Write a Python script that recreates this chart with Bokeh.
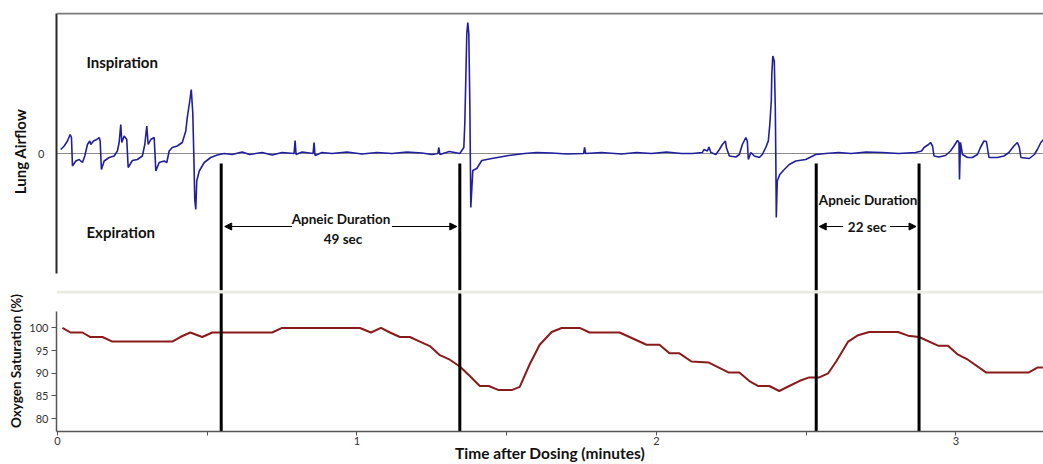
from bokeh.plotting import figure
from bokeh.layouts import column
from bokeh.models import Range1d, Span, Label, Arrow, NormalHead, FixedTicker
from bokeh.embed import file_html
from bokeh.resources import INLINE

# ---------------- data ----------------
# Lung airflow trace, read piecewise: time after dosing (seconds), airflow (arb. units, + = inspiration)
breathing1_t = [0.66, 1.34, 2.0, 2.54, 2.8, 3.0, 3.67, 4.35, 5.0, 5.47, 6.0, 6.47, 6.67, 7.2, 7.87,
                8.35, 8.55, 8.8, 9.35, 10.35, 11.35, 12.0, 12.35, 12.68, 12.88, 13.36, 13.88, 14.16,
                15.0, 16.0, 17.0, 17.49, 17.89, 18.17, 18.7, 19.37, 19.7, 20.37, 21.37, 21.9, 22.37,
                23.0, 24.0, 25.0, 25.7, 26.0, 26.5, 26.8, 27.1, 27.3, 27.5, 27.7, 27.9, 28.4, 29.4,
                30.7, 32.0, 33.4]
breathing1_v = [0.4, 0.75, 1.25, 1.9, 1.6, -1.25, -0.75, -0.6, -0.9, -0.25, 0.9, 1.25, 0.9, 1.25, 1.4,
                1.6, 1.25, -1.6, -0.75, -0.4, -0.25, 0.25, 1.1, 2.9, 1.1, 1.75, 1.4, -1.4,
                -0.7, -0.6, -0.25, 0.9, 2.75, 0.9, 1.4, 1.6, -1.75, -0.9, -0.75, -0.9, 0.25,
                0.6, 0.75, 1.1, 2.25, 3.6, 5.25, 6.4, 4.1, 0.1, -4.6, -5.6, -2.75, -1.75, -0.9,
                -0.4, -0.15, 0.0]
apnea1_t = [35.0, 37.0, 38.5, 41.0, 43.0, 45.0, 47.4, 47.6, 47.8, 49.0, 51.2, 51.4, 51.6, 53.0, 55.0,
            58.0, 61.0, 64.0, 67.0, 70.0, 73.0, 75.0, 76.2, 76.4, 76.6, 78.5, 80.6, 81.4, 81.6, 82.0,
            82.2, 82.4, 82.6, 82.8, 83.2, 84.0, 85.0, 87.0, 90.4, 93.6, 96.0, 99.0, 102.0, 105.4,
            105.6, 105.8, 109.0, 113.0, 116.0, 119.0, 122.0, 125.0]
apnea1_v = [-0.1, 0.15, -0.1, 0.1, -0.15, 0.1, 0.0, 1.3, -0.1, 0.15, 0.0, 1.1, -0.2, 0.1, 0.0,
            0.15, -0.05, 0.1, 0.0, 0.15, 0.05, -0.1, 0.0, 0.6, -0.1, 0.2, 0.0, 0.6, 3.0, 12.0,
            13.1, 12.0, 5.3, -5.4, -1.7, -1.5, -0.7, -0.5, -0.2, 0.0, 0.1, 0.05, -0.05, 0.0,
            0.6, 0.0, 0.1, -0.05, 0.1, 0.0, 0.15, 0.0]
breathing2_t = [127.2, 129.2, 129.5, 130.2, 130.5, 130.9, 131.9, 132.6, 133.2, 133.8, 134.0, 134.6,
                135.9, 136.6, 137.2, 137.9, 138.2, 138.4, 138.9, 139.6, 140.6, 141.2, 141.9, 142.4,
                142.7, 143.0, 143.1, 143.3, 143.6, 143.8, 143.9, 144.0, 144.2, 144.7, 145.6, 146.6,
                147.9, 149.9, 151.9, 153.9]
breathing2_v = [0.0, 0.1, 0.4, 0.25, 0.65, 0.1, -0.1, 0.4, 0.9, 1.25, 0.6, -0.25,
                -0.35, -0.1, 0.9, 1.6, 1.25, -0.6, 0.1, -0.25, -0.4, -0.1, 0.6, 1.25,
                2.9, 5.25, 7.9, 9.75, 9.25, 4.6, -0.1, -6.4, -2.75, -2.1, -1.6, -1.1,
                -0.75, -0.6, -0.1, 0.0]
apnea2_t = [156.5, 159.0, 162.0, 165.3, 168.5, 171.9]
apnea2_v = [0.1, 0.0, 0.15, 0.1, 0.0, 0.1]
breathing3_t = [173.1, 173.6, 174.5, 174.9, 175.3, 175.6, 176.6, 177.9, 178.9, 179.6, 180.3, 180.6,
                180.7, 180.9, 181.3, 182.3, 183.3, 184.3, 184.9, 185.6, 186.1, 186.6, 188.3, 189.6,
                190.6, 191.6, 192.3, 192.7, 193.0, 194.7, 195.7, 196.3, 197.0, 197.9]
breathing3_v = [0.25, 0.6, 0.9, 1.1, 0.75, -0.25, -0.35, -0.2, 0.25, 0.75, 1.3, 1.1,
                -2.6, 1.1, -0.1, -0.4, -0.4, -0.1, 0.6, 1.25, 1.2, -0.4, -0.4, -0.25,
                0.1, 0.75, 1.1, 0.6, -0.4, -0.5, -0.1, 0.4, 1.1, 1.6]

# Oxygen saturation (%)
o2_t_sec = [1.0, 2.6, 5.0, 6.6, 9.0, 11.0, 23.0, 24.6, 26.6, 29.0, 31.0, 43.0, 45.0, 60.6, 62.8,
            64.8, 66.6, 68.6, 70.6, 72.6, 74.6, 76.6, 78.6, 80.6, 82.6, 84.6, 86.4, 88.4, 91.0,
            92.6, 94.6, 96.6, 99.0, 101.0, 104.6, 106.6, 112.6, 114.6, 118.0, 120.6, 122.6, 124.6,
            127.0, 130.4, 132.4, 134.4, 136.6, 138.6, 140.4, 142.6, 144.6, 146.6, 148.6, 150.6,
            152.6, 154.4, 156.0, 158.4, 160.4, 162.6, 168.4, 170.4, 172.6, 176.4, 178.4, 180.4,
            182.4, 186.0, 194.6, 196.4, 197.4]
o2_sat = [100, 99, 99, 98, 98, 97, 97, 98, 99, 98, 99, 99, 100, 100, 99,
          100, 99, 98, 98, 97, 96, 94, 93, 91.5, 89.4, 87.2, 87.2, 86.3, 86.3,
          87, 92, 96.3, 99.1, 100, 100, 99, 99, 98, 96.3, 96.3, 94.4, 94.4,
          92.6, 92.4, 91.3, 90.2, 90.2, 88.3, 87.2, 87.2, 86.1, 87.2, 88.3, 89.1,
          89.1, 90, 92.6, 97, 98.4, 99.1, 99.1, 98.3, 98, 96.1, 96.1, 94.1,
          93, 90.2, 90.2, 91.3, 91.3]

# Apnea markers (seconds): start/end of each apneic period
apnea_marks_sec = [32.8, 80.6, 152.0, 172.6]
apnea_texts = ["49 sec", "22 sec"]

x_major_ticks = [0, 1, 2, 3]
x_minor_ticks = [0.5, 1.5, 2.5]
o2_ticks = [80, 85, 90, 95, 100]

# ---------------- derived ----------------
airflow_t_sec = breathing1_t + apnea1_t + breathing2_t + apnea2_t + breathing3_t
airflow_val = breathing1_v + apnea1_v + breathing2_v + apnea2_v + breathing3_v
af_t = [s / 60 for s in airflow_t_sec]
o2_t = [s / 60 for s in o2_t_sec]
marks = [s / 60 for s in apnea_marks_sec]

FONT = "Lato"
W = 1043
xr = Range1d(-0.0033, 3.2922)
TOP_Y = (-13.7, 14.1)
BOT_Y = (77.17, 108.26)

# ---------------- top panel: lung airflow ----------------
top = figure(width=W, height=290, x_range=xr, y_range=Range1d(*TOP_Y),
             output_backend="svg", toolbar_location=None, x_axis_location=None,
             min_border_left=56, min_border_right=0, min_border_top=12, min_border_bottom=0)
top.outline_line_color = None
top.grid.visible = False
ya = top.yaxis[0]
ya.ticker = FixedTicker(ticks=[0])
ya.bounds = (-12.0, 14.0)
ya.axis_line_color = "#2a2a2a"
ya.axis_line_width = 2
ya.major_tick_line_color = None
ya.minor_tick_line_color = None
ya.major_label_standoff = 6
ya.major_label_text_font = FONT
ya.major_label_text_font_size = "11px"
ya.major_label_text_color = "#333333"
ya.axis_label = "Lung Airflow"
ya.axis_label_text_font = FONT
ya.axis_label_text_font_style = "bold"
ya.axis_label_text_font_size = "15px"
ya.axis_label_text_color = "#111111"
ya.axis_label_standoff = 6

top.add_layout(Span(location=14.0, dimension="width", line_color="#7a7a7a", line_width=2))
top.add_layout(Span(location=0, dimension="width", line_color="#8a8a8a", line_width=1, level="underlay"))

top.line(af_t, airflow_val, line_color="#20209e", line_width=1.6)

top.segment(x0=marks, y0=[-1.0] * len(marks), x1=marks, y1=[TOP_Y[0]] * len(marks),
            line_color="black", line_width=3)

for txt, yv in (("Inspiration", 9.2), ("Expiration", -7.85)):
    top.add_layout(Label(x=5.8 / 60, y=yv, text=txt, text_font=FONT, text_font_style="bold",
                         text_font_size="15px", text_align="left", text_baseline="middle",
                         text_color="#111111"))

ann = [(56.8 / 60, -6.5, "Apneic Duration"), (57.2 / 60, -8.5, apnea_texts[0]),
       (162.4 / 60, -4.6, "Apneic Duration"), (162.2 / 60, -7.3, apnea_texts[1])]
for xv, yv, txt in ann:
    top.add_layout(Label(x=xv, y=yv, text=txt, text_font=FONT, text_font_style="bold",
                         text_font_size="13.5px", text_align="center", text_baseline="middle",
                         text_color="#111111"))

arrows = [(47.0, 33.5), (67.0, 80.0), (157.4, 152.6), (166.8, 172.0)]
for xs, xe in arrows:
    top.add_layout(Arrow(end=NormalHead(size=7, fill_color="black", line_color="black"),
                         x_start=xs / 60, y_start=-7.3, x_end=xe / 60, y_end=-7.3,
                         line_color="black", line_width=1.2))

# ---------------- bottom panel: oxygen saturation ----------------
bot = figure(width=W, height=174, x_range=xr, y_range=Range1d(*BOT_Y),
             output_backend="svg", toolbar_location=None,
             min_border_left=56, min_border_right=0, min_border_top=0, min_border_bottom=31)
bot.outline_line_color = None
bot.grid.visible = False

xa = bot.xaxis[0]
xa.ticker = FixedTicker(ticks=x_major_ticks, minor_ticks=x_minor_ticks)
xa.axis_line_color = "#555555"
xa.axis_line_width = 1.5
xa.major_tick_line_color = "#555555"
xa.minor_tick_line_color = "#555555"
xa.major_tick_in = 0
xa.major_tick_out = 4
xa.minor_tick_in = 0
xa.minor_tick_out = 4
xa.major_label_standoff = 1
xa.major_label_text_font = FONT
xa.major_label_text_font_size = "11px"
xa.major_label_text_color = "#333333"
xa.axis_label = "Time after Dosing (minutes)"
xa.axis_label_text_font = FONT
xa.axis_label_text_font_style = "bold"
xa.axis_label_text_font_size = "15.5px"
xa.axis_label_text_color = "#111111"
xa.axis_label_standoff = -4

yb = bot.yaxis[0]
yb.ticker = FixedTicker(ticks=o2_ticks)
yb.bounds = (BOT_Y[0], 103.7)
yb.axis_line_color = "#555555"
yb.axis_line_width = 1.5
yb.major_tick_line_color = "#555555"
yb.minor_tick_line_color = None
yb.major_tick_in = 0
yb.major_tick_out = 5
yb.major_label_standoff = 3
yb.major_label_text_font = FONT
yb.major_label_text_font_size = "11px"
yb.major_label_text_color = "#333333"
yb.axis_label = "Oxygen Saturation (%)"
yb.axis_label_text_font = FONT
yb.axis_label_text_font_style = "bold"
yb.axis_label_text_font_size = "13.5px"
yb.axis_label_text_color = "#111111"
yb.axis_label_standoff = 2

bot.add_layout(Span(location=107.93, dimension="width", line_color="#ebebe3", line_width=3))

bot.line(o2_t, o2_sat, line_color="#8b1a1a", line_width=2)

bot.segment(x0=marks, y0=[BOT_Y[0]] * len(marks), x1=marks, y1=[BOT_Y[1]] * len(marks),
            line_color="black", line_width=3)

layout = column(top, bot, spacing=0)
open("out.html", "w").write(file_html(layout, INLINE))
